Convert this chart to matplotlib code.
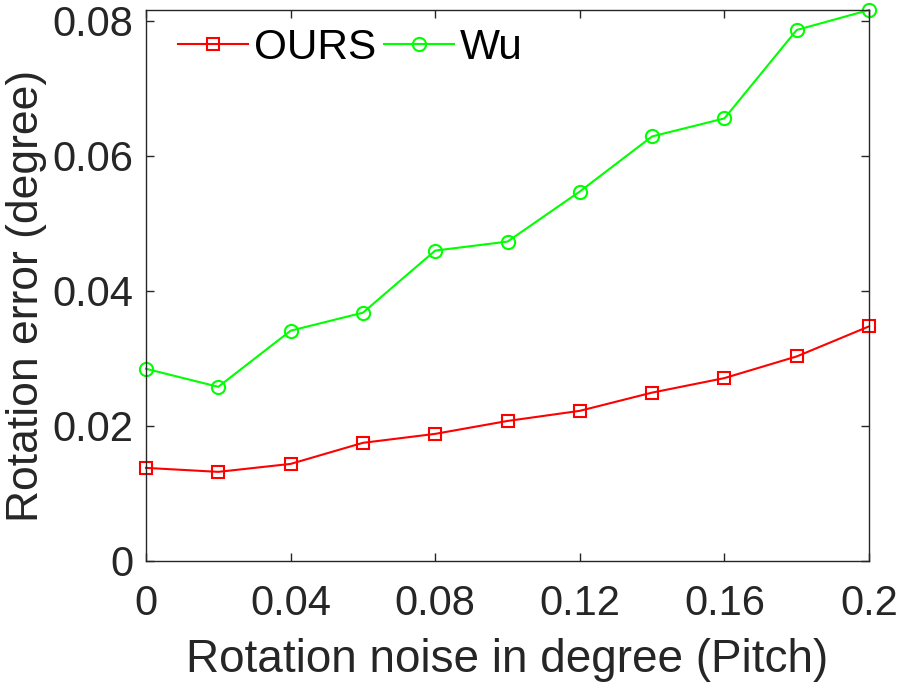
import matplotlib
matplotlib.use('Agg')
import matplotlib.pyplot as plt

# data
noise = [0, 0.02, 0.04, 0.06, 0.08, 0.10, 0.12, 0.14, 0.16, 0.18, 0.20]
ours = [0.01375, 0.01316, 0.01434, 0.01746, 0.01879, 0.0207, 0.0222, 0.0249, 0.02705, 0.03026, 0.03471]
wu = [0.02843, 0.02576, 0.03407, 0.03674, 0.04594, 0.04727, 0.05469, 0.06285, 0.06552, 0.07862, 0.08158]

xticks = [0, 0.04, 0.08, 0.12, 0.16, 0.2]
xtick_labels = ['0', '0.04', '0.08', '0.12', '0.16', '0.2']
yticks = [0, 0.02, 0.04, 0.06, 0.08]
ytick_labels = ['0', '0.02', '0.04', '0.06', '0.08']

plt.rcParams['font.family'] = ['Liberation Sans', 'DejaVu Sans']

fig = plt.figure(figsize=(8.97, 6.89), dpi=100)
ax = fig.add_axes([146 / 897, 1 - 560.7 / 689, 723 / 897, 550.7 / 689])

ax.plot(noise, ours, color='#ff0000', lw=1.5, marker='s', markersize=8,
        markerfacecolor='none', markeredgewidth=1.5, label='OURS', clip_on=False)
ax.plot(noise, wu, color='#00ff00', lw=1.5, marker='o', markersize=9.5,
        markerfacecolor='none', markeredgewidth=1.5, label='Wu', clip_on=False)

ax.set_xlim(0, 0.2)
ax.set_ylim(0, max(wu))
ax.set_xticks(xticks)
ax.set_xticklabels(xtick_labels)
ax.set_yticks(yticks)
ax.set_yticklabels(ytick_labels)

for s in ax.spines.values():
    s.set_color('#262626')
    s.set_linewidth(1)
ax.tick_params(direction='in', length=6, width=1, colors='#262626',
               labelsize=30, top=True, right=True)
ax.tick_params(axis='x', pad=17)
ax.tick_params(axis='y', pad=9)

ax.set_xlabel('Rotation noise in degree (Pitch)', fontsize=33, color='#262626', labelpad=10)
ax.set_ylabel('Rotation error (degree)', fontsize=32, color='#262626')
# put the y label against the left edge, like the reference
ax.yaxis.set_label_coords(47 / 897, 1 - 296 / 689, transform=fig.transFigure)

ax.legend(loc='center left', ncol=2, frameon=False, fontsize=30.5,
          handlelength=1.65, handletextpad=0.15, columnspacing=0.17,
          borderpad=0, borderaxespad=0,
          bbox_to_anchor=(178 / 897, 1 - 47.7 / 689), bbox_transform=fig.transFigure)

fig.savefig('out.png', dpi=100)
